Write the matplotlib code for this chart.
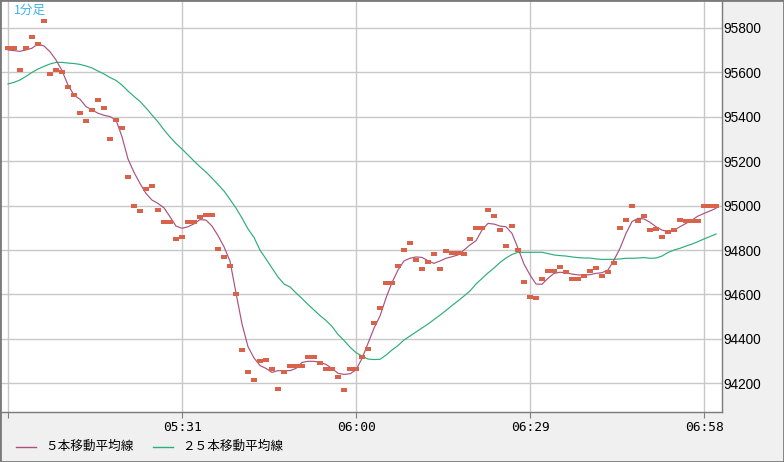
import matplotlib
matplotlib.use('Agg')
import matplotlib.pyplot as plt
from matplotlib.lines import Line2D
from matplotlib.patches import Rectangle

plt.rcParams['font.family'] = ['Noto Sans CJK JP', 'DejaVu Sans']

# 1-minute closes, 05:02 .. 07:00
prices = [95710, 95710, 95610, 95710, 95760, 95730, 95830, 95595, 95610, 95600,
          95535, 95500, 95415, 95380, 95430, 95475, 95440, 95300, 95385, 95350,
          95130, 95000, 94975, 95075, 95090, 94980, 94925, 94925, 94850, 94860,
          94925, 94925, 94950, 94960, 94960, 94805, 94770, 94730, 94600, 94350,
          94250, 94215, 94300, 94305, 94265, 94175, 94250, 94280, 94280, 94280,
          94320, 94320, 94290, 94265, 94265, 94230, 94170, 94265, 94265, 94320,
          94355, 94470, 94540, 94650, 94650, 94730, 94800, 94830, 94755, 94715,
          94745, 94780, 94715, 94795, 94785, 94785, 94780, 94850, 94900, 94900,
          94980, 94955, 94890, 94820, 94910, 94800, 94655, 94590, 94585, 94670,
          94705, 94705, 94725, 94700, 94670, 94670, 94685, 94705, 94720, 94685,
          94700, 94740, 94900, 94935, 95000, 94930, 94955, 94890, 94895, 94860,
          94880, 94890, 94935, 94930, 94930, 94930, 95000, 95000, 95000]

ma5 = [95701, 95698, 95695, 95701, 95709, 95728, 95719, 95693, 95656, 95608,
       95543, 95498, 95479, 95446, 95431, 95416, 95407, 95401, 95386, 95310,
       95210, 95150, 95100, 95055, 95025, 95010, 94990, 94950, 94908, 94898,
       94905, 94918, 94937, 94935, 94908, 94865, 94815, 94750, 94607, 94467,
       94365, 94314, 94280, 94267, 94249, 94257, 94257, 94257, 94267, 94294,
       94299, 94299, 94294, 94285, 94267, 94245, 94240, 94243, 94260, 94312,
       94380, 94448, 94503, 94584, 94654, 94710, 94751, 94763, 94769, 94767,
       94752, 94740, 94751, 94763, 94770, 94778, 94800, 94823, 94842, 94890,
       94920, 94917, 94908, 94905, 94875, 94808, 94737, 94688, 94647, 94646,
       94673, 94695, 94700, 94698, 94692, 94688, 94688, 94689, 94695, 94698,
       94710, 94755, 94808, 94875, 94928, 94943, 94940, 94925, 94905, 94890,
       94883, 94890, 94905, 94920, 94935, 94953, 94965, 94976, 94988]

ma25 = [95548, 95555, 95566, 95582, 95600, 95615, 95627, 95638, 95645, 95645,
        95642, 95640, 95636, 95629, 95620, 95606, 95593, 95577, 95564, 95543,
        95516, 95492, 95469, 95440, 95408, 95377, 95341, 95309, 95280, 95255,
        95228, 95201, 95175, 95151, 95124, 95095, 95066, 95028, 94989, 94944,
        94895, 94857, 94800, 94760, 94719, 94679, 94647, 94634, 94607, 94582,
        94555, 94530, 94505, 94483, 94456, 94420, 94393, 94363, 94338, 94323,
        94309, 94307, 94308, 94327, 94350, 94370, 94395, 94413, 94431, 94449,
        94467, 94487, 94507, 94528, 94550, 94571, 94593, 94616, 94647, 94672,
        94697, 94719, 94744, 94764, 94780, 94790, 94790, 94790, 94790, 94790,
        94784, 94778, 94775, 94773, 94769, 94766, 94764, 94764, 94760, 94758,
        94758, 94758, 94760, 94763, 94763, 94764, 94766, 94763, 94764, 94773,
        94789, 94800, 94808, 94818, 94827, 94838, 94850, 94861, 94872]

tick_pos = [0, 29, 58, 87, 116]
tick_labels = ['', '05:31', '06:00', '06:29', '06:58']
y_ticks = [94200, 94400, 94600, 94800, 95000, 95200, 95400, 95600, 95800]

legend_labels = ['５本移動平均線', '２５本移動平均線']
c_ma5 = '#AA527E'
c_ma25 = '#2BAE79'
c_price = '#D9634A'

W, H = 784, 462
fig = plt.figure(figsize=(W / 100, H / 100), dpi=100, facecolor='#F0F0F0')
ax = fig.add_axes([0, 1 - 411.5 / H, 721.5 / W, 411.5 / H])
ax.set_facecolor('white')

x = list(range(len(prices)))
ax.plot(x, ma25, color=c_ma25, lw=0.85, zorder=2)
ax.plot(x, ma5, color=c_ma5, lw=0.85, zorder=3)
rect = [(-1, -0.75), (1, -0.75), (1, 0.75), (-1, 0.75)]
ax.plot(x, prices, ls='none', marker=rect, ms=3.7, mew=0, color=c_price, zorder=4)

ax.set_xlim(-8 / 6, (721.5 - 8) / 6)
ax.set_ylim(94073, 95926)

ax.set_xticks(tick_pos)
ax.set_xticklabels(tick_labels, family='DejaVu Sans Mono', fontsize=9.3)
ax.tick_params(axis='x', length=4, color='#808080', pad=3)
ax.yaxis.tick_right()
ax.set_yticks(y_ticks)
ax.set_yticklabels([str(v) for v in y_ticks], family='Liberation Sans', fontsize=9.8)
ax.tick_params(axis='y', length=0, pad=1)

ax.grid(color='#C8C8C8', lw=1)
ax.set_axisbelow(True)
for s in ['top', 'left']:
    ax.spines[s].set_visible(False)
for s in ['right', 'bottom']:
    ax.spines[s].set_color('#7A7A7A')
    ax.spines[s].set_linewidth(1)

fig.text(14 / W, 1 - 10.5 / H, '1分足', color='#3CB4E8', fontsize=9, va='center', ha='left')

# legend along the bottom
ly = 1 - 446.5 / H
for x0, x1, tx, col, lab in [(16, 36, 45, c_ma5, legend_labels[0]),
                             (153, 173, 182, c_ma25, legend_labels[1])]:
    fig.add_artist(Line2D([x0 / W, x1 / W], [ly, ly], transform=fig.transFigure, color=col, lw=1))
    fig.text(tx / W, ly, lab, fontsize=9.1, va='center', ha='left', color='black')

fig.add_artist(Rectangle((0, 0), 1, 1, transform=fig.transFigure, fill=False,
                         ec='#7A7A7A', lw=2))

fig.savefig('out.png', dpi=100, facecolor=fig.get_facecolor())
